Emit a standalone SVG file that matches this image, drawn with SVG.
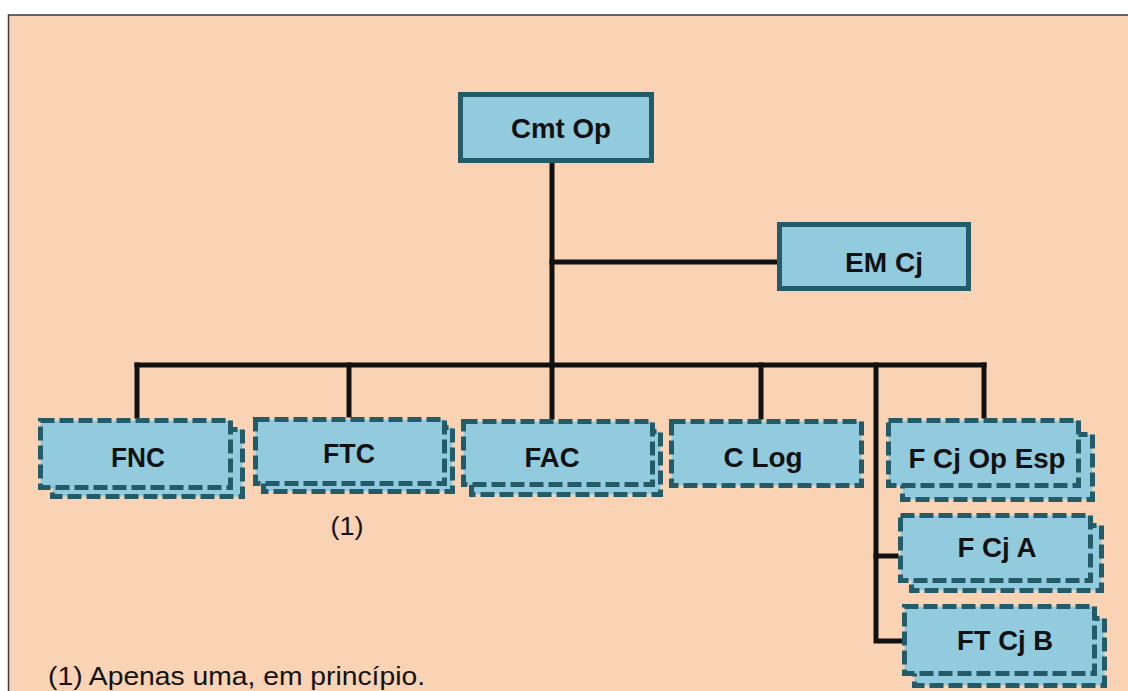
<svg xmlns="http://www.w3.org/2000/svg" width="1128" height="691" viewBox="0 0 1128 691">
<style>
.bg{fill:#FAD3B4;stroke:#3a3a3a;stroke-width:1.5}
.solid{fill:#92CBDD;stroke:#245B69;stroke-width:5}
.dash{fill:#92CBDD;stroke:#245B69;stroke-width:5;stroke-dasharray:14 5}
.lbl{font-family:"Liberation Sans",Arial,sans-serif;font-weight:bold;font-size:27px;fill:#111;text-anchor:middle}
.note{font-family:"Liberation Sans",Arial,sans-serif;font-size:25px;fill:#111}
.wire{fill:none;stroke:#111;stroke-width:5;stroke-linecap:square}
</style>
<rect width="1128" height="691" fill="#ffffff"/>
<rect class="bg" x="8.5" y="15" width="1130" height="690"/>
<g id="connectors">
<path class="wire" d="M552 163 V365"/>
<path class="wire" d="M552 262 H777"/>
<path class="wire" d="M137 365 H984"/>
<path class="wire" d="M137 365 V416"/>
<path class="wire" d="M349 365 V415"/>
<path class="wire" d="M552 365 V417"/>
<path class="wire" d="M761 365 V417"/>
<path class="wire" d="M984 365 V416"/>
<path class="wire" d="M876 365 V641 H900"/>
<path class="wire" d="M876 556 H896"/>
</g>
<g id="cmt-op">
<rect class="solid" x="460.5" y="94.5" width="191" height="66"/>
<text class="lbl" x="561" y="138" textLength="100" lengthAdjust="spacingAndGlyphs">Cmt Op</text>
</g>
<g id="em-cj">
<rect class="solid" x="779.5" y="224.5" width="189" height="64"/>
<text class="lbl" x="884" y="272" textLength="78" lengthAdjust="spacingAndGlyphs">EM Cj</text>
</g>
<g id="fnc">
<rect class="dash" x="52.5" y="429.5" width="190" height="67"/>
<rect class="dash" x="40.5" y="420.5" width="190" height="67"/>
<text class="lbl" x="138" y="467" textLength="54" lengthAdjust="spacingAndGlyphs">FNC</text>
</g>
<g id="ftc">
<rect class="dash" x="263.5" y="427.5" width="189" height="64"/>
<rect class="dash" x="255.5" y="419.5" width="189" height="64"/>
<text class="lbl" x="349" y="463" textLength="52" lengthAdjust="spacingAndGlyphs">FTC</text>
</g>
<g id="fac">
<rect class="dash" x="471.5" y="431.5" width="189" height="63"/>
<rect class="dash" x="463.5" y="421.5" width="189" height="63"/>
<text class="lbl" x="552" y="467" textLength="55" lengthAdjust="spacingAndGlyphs">FAC</text>
</g>
<g id="c-log">
<rect class="dash" x="671.5" y="421.5" width="190" height="64"/>
<text class="lbl" x="763" y="467" textLength="79" lengthAdjust="spacingAndGlyphs">C Log</text>
</g>
<g id="f-cj-op-esp">
<rect class="dash" x="902.5" y="434.5" width="190" height="65"/>
<rect class="dash" x="888.5" y="420.5" width="190" height="65"/>
<text class="lbl" x="987" y="468" textLength="157" lengthAdjust="spacingAndGlyphs">F Cj Op Esp</text>
</g>
<g id="f-cj-a">
<rect class="dash" x="911.5" y="525.5" width="190" height="65"/>
<rect class="dash" x="900.5" y="515.5" width="190" height="65"/>
<text class="lbl" x="997" y="557" textLength="79" lengthAdjust="spacingAndGlyphs">F Cj A</text>
</g>
<g id="ft-cj-b">
<rect class="dash" x="914.5" y="618.5" width="190" height="67"/>
<rect class="dash" x="904.5" y="606.5" width="190" height="67"/>
<text class="lbl" x="1005" y="650" textLength="96" lengthAdjust="spacingAndGlyphs">FT Cj B</text>
</g>
<text class="note" x="347" y="535" text-anchor="middle" textLength="33" lengthAdjust="spacingAndGlyphs">(1)</text>
<text class="note" x="48" y="685" textLength="377" lengthAdjust="spacingAndGlyphs">(1) Apenas uma, em princípio.</text>
</svg>
